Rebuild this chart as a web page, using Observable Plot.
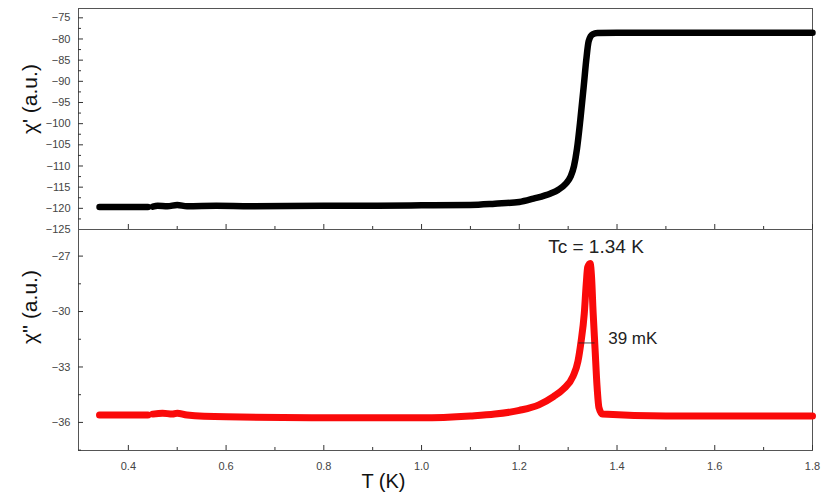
<!DOCTYPE html>
<html>
<head>
<meta charset="utf-8">
<script src="https://cdn.jsdelivr.net/npm/d3@7"></script>
<script src="https://cdn.jsdelivr.net/npm/@observablehq/plot@0.6"></script>
<style>
  body { margin: 0; background: white; }
  #chart { position: relative; width: 822px; height: 501px; font-family: "Liberation Sans", Arial, sans-serif; }
  #chart svg { position: absolute; left: 0; overflow: visible; }
</style>
</head>
<body>
<div id="chart"></div>
<script>
// ---- data ----
const T1 =   [0.341, 0.44, 0.445, 0.45, 0.46, 0.48, 0.50, 0.52, 0.58, 0.65, 0.80, 0.90, 1.00, 1.10, 1.15, 1.20, 1.229, 1.264, 1.28, 1.295, 1.305, 1.312, 1.318, 1.325, 1.332, 1.337, 1.342, 1.35, 1.36, 1.40, 1.80];
const chi1 = [-119.7, -119.7, null, -119.6, -119.4, -119.5, -119.2, -119.5, -119.4, -119.5, -119.4, -119.4, -119.3, -119.2, -118.9, -118.5, -117.7, -116.5, -115.6, -114.2, -112.5, -110.0, -106.0, -99.0, -91.0, -85.0, -80.5, -78.9, -78.6, -78.5, -78.5];

const T2 =   [0.341, 0.44, 0.445, 0.45, 0.47, 0.49, 0.50, 0.52, 0.60, 0.80, 1.00, 1.10, 1.15, 1.20, 1.24, 1.27, 1.29, 1.31, 1.32, 1.326, 1.333, 1.337, 1.34, 1.345, 1.348, 1.351, 1.355, 1.359, 1.363, 1.37, 1.50, 1.80];
const chi2 = [-35.6, -35.6, null, -35.55, -35.5, -35.55, -35.5, -35.6, -35.7, -35.75, -35.75, -35.65, -35.55, -35.35, -35.05, -34.6, -34.2, -33.5, -32.7, -31.7, -30.1, -28.5, -27.6, -27.4, -28.2, -30.0, -32.0, -34.0, -35.2, -35.55, -35.65, -35.65];

const xTicks = [0.4, 0.6, 0.8, 1.0, 1.2, 1.4, 1.6, 1.8];
const xMinor = [0.5, 0.7, 0.9, 1.1, 1.3, 1.5, 1.7];
const y1Ticks = [-125, -120, -115, -110, -105, -100, -95, -90, -85, -80, -75];
const y1Minor = [-122.5, -117.5, -112.5, -107.5, -102.5, -97.5, -92.5, -87.5, -82.5, -77.5];
const y2Ticks = [-36, -33, -30, -27];
const y2Minor = [-37.5, -34.5, -31.5, -28.5];

const tcLabel = "Tc = 1.34 K";
const fwhmLabel = "39 mK";
const fwhm = {x1: 1.322, x2: 1.355, y: -31.7};

const d1 = T1.map((t, i) => ({T: t, v: chi1[i]}));
const d2 = T2.map((t, i) => ({T: t, v: chi2[i]}));

const W = 822, ML = 78, MR = 10;
const xDomain = [0.298, 1.8];
const font = "Liberation Sans, Arial, sans-serif";
const tickColor = "#444";

const topPanel = Plot.plot({
  width: W, height: 230, marginLeft: ML, marginRight: MR, marginTop: 8, marginBottom: 1,
  style: {background: "transparent", fontFamily: font, fontSize: "11px", color: tickColor, overflow: "visible"},
  x: {domain: xDomain},
  y: {domain: [-125, -72.8]},
  marks: [
    Plot.frame({stroke: "#555"}),
    Plot.axisY(y1Ticks, {tickSize: -5, tickPadding: 13, fill: tickColor, stroke: "#333", label: null}),
    Plot.axisY(y1Minor, {tickSize: -3, tickFormat: () => "", stroke: "#333", label: null}),
    Plot.axisX(xTicks, {tickSize: -5, tickFormat: () => "", stroke: "#333", label: null}),
    Plot.axisX(xMinor, {tickSize: -3, tickFormat: () => "", stroke: "#333", label: null}),
    Plot.line(d1, {x: "T", y: "v", stroke: "#000", strokeWidth: 6.5, strokeLinejoin: "round", curve: "monotone-x"}),
    Plot.text(["χ' (a.u.)"], {frameAnchor: "left", rotate: -90, dx: -48, dy: 15, fontSize: 21, fill: "#111"})
  ]
});
topPanel.style.top = "0px";

const bottomPanel = Plot.plot({
  width: W, height: 272, marginLeft: ML, marginRight: MR, marginTop: 0, marginBottom: 51,
  style: {background: "transparent", fontFamily: font, fontSize: "11px", color: tickColor, overflow: "visible"},
  x: {domain: xDomain},
  y: {domain: [-37.52, -25.56]},
  marks: [
    Plot.frame({stroke: "#555"}),
    Plot.axisY(y2Ticks, {tickSize: -5, tickPadding: 13, fill: tickColor, stroke: "#333", label: null}),
    Plot.axisY(y2Minor, {tickSize: -3, tickFormat: () => "", stroke: "#333", label: null}),
    Plot.axisX(xTicks, {tickSize: -5, tickPadding: 17, tickFormat: d3.format(".1f"), fill: tickColor, stroke: "#333", label: null}),
    Plot.axisX(xMinor, {tickSize: -3, tickFormat: () => "", stroke: "#333", label: null}),
    Plot.line(d2, {x: "T", y: "v", stroke: "#fa0a0a", strokeWidth: 7, strokeLinejoin: "round", curve: "monotone-x"}),
    Plot.ruleY([fwhm.y], {x1: fwhm.x1, x2: fwhm.x2, stroke: "#222", strokeWidth: 0.8}),
    Plot.text([fwhmLabel], {x: [1.382], y: [-31.45], textAnchor: "start", fontSize: 17, fill: "#222"}),
    Plot.text([tcLabel], {x: [1.357], y: [-26.48], textAnchor: "middle", fontSize: 19, fill: "#222"}),
    Plot.text(["χ'' (a.u.)"], {frameAnchor: "left", rotate: -90, dx: -48, dy: 4, fontSize: 21, fill: "#111"}),
    Plot.text(["T (K)"], {x: [0.922], frameAnchor: "bottom", dy: 37, fontSize: 20, fill: "#111"})
  ]
});
bottomPanel.style.top = "229px";

const c = document.getElementById("chart");
c.appendChild(topPanel);
c.appendChild(bottomPanel);
</script>
</body>
</html>
